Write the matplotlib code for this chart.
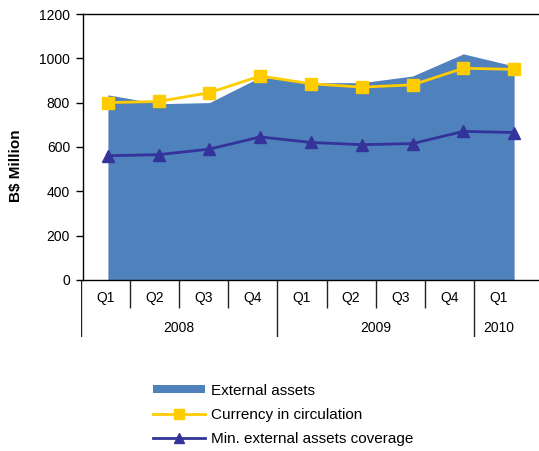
import matplotlib
matplotlib.use("Agg")
import matplotlib.pyplot as plt
from matplotlib.patches import Patch
from matplotlib.lines import Line2D

plt.rcParams['font.family'] = ['Liberation Sans', 'DejaVu Sans']

# quarterly values, B$ million
quarters = ["Q1", "Q2", "Q3", "Q4", "Q1", "Q2", "Q3", "Q4", "Q1"]
years = ["2008", "2009", "2010"]
year_len = [4, 4, 1]
external_assets = [835, 795, 800, 915, 890, 890, 920, 1020, 965]
currency = [800, 805, 845, 920, 885, 870, 880, 955, 950]
min_coverage = [560, 565, 590, 645, 620, 610, 615, 670, 665]

W, H = 539, 451
fig = plt.figure(figsize=(W / 100, H / 100), dpi=100)

def px_box(x0, y0, x1, y1):
    # pixel box (top-left origin) -> figure fraction rect
    return [x0 / W, 1 - y1 / H, (x1 - x0) / W, (y1 - y0) / H]

ax = fig.add_axes(px_box(82.5, 14, 539.5, 279.8))
x = list(range(len(quarters)))

ax.fill_between(x, 0, external_assets, color="#4F81BD", lw=0, zorder=1)
ax.plot(x, currency, color="#FFCC00", lw=2, marker="s", ms=9,
        markeredgecolor="#FFCC00", zorder=3)
ax.plot(x, min_coverage, color="#333399", lw=2, marker="^", ms=9,
        markeredgecolor="#333399", zorder=3)

ax.set_xlim(-0.5, len(quarters) - 0.5)
ax.set_ylim(0, 1200)
ax.set_yticks(range(0, 1201, 200))
ax.set_xticks([])
ax.tick_params(axis="y", length=5, width=1, labelsize=10, pad=4)
ax.spines["right"].set_visible(False)
for s in ["left", "top", "bottom"]:
    ax.spines[s].set_linewidth(1)
ax.set_ylabel("B$ Million", fontsize=11, fontweight="bold")
ax.yaxis.set_label_coords(-0.13, 0.428)

# two-level category table under the plot
tab = fig.add_axes(px_box(81, 279.8, 81 + 9 * 49.1, 337))
tab.set_xlim(0, 9)
tab.set_ylim(2, 0)
tab.axis("off")
for i, q in enumerate(quarters):
    tab.text(i + 0.5, 0.64, q, ha="center", va="center", fontsize=10)
boundaries = [0]
for n in year_len:
    boundaries.append(boundaries[-1] + n)
for i in range(len(quarters)):
    long = i in boundaries
    tab.vlines(i, 0, 2 if long else 1, color="#222222", lw=1)
for j, yr in enumerate(years):
    mid = (boundaries[j] + boundaries[j + 1]) / 2
    tab.text(mid, 1.7, yr, ha="center", va="center", fontsize=10)

handles = [
    Patch(color="#4F81BD", lw=0),
    Line2D([], [], color="#FFCC00", lw=2, marker="s", ms=7),
    Line2D([], [], color="#333399", lw=2, marker="^", ms=7),
]
labels = ["External assets", "Currency in circulation",
          "Min. external assets coverage"]
fig.legend(handles, labels, loc="upper left",
           bbox_to_anchor=(139 / W, 1 - 370 / H), frameon=False,
           fontsize=11, handlelength=3.4, handleheight=0.45,
           handletextpad=0.4, labelspacing=0.65)

fig.savefig("out.png", dpi=100)
